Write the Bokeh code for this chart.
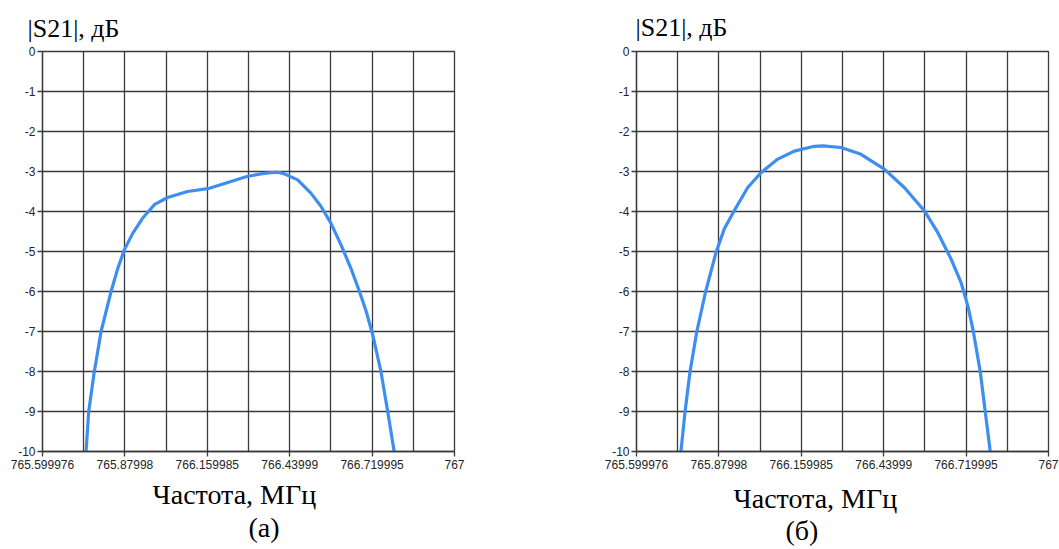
from bokeh.plotting import figure
from bokeh.layouts import row
from bokeh.models import FixedTicker, Title
from bokeh.embed import file_html
from bokeh.resources import INLINE

# ---- data ----
freq_a = [765.748, 765.757, 765.776, 765.782, 765.799, 765.816, 765.833, 765.856,
          765.878, 765.907, 765.940, 765.980, 766.025, 766.093, 766.167, 766.227,
          766.297, 766.342, 766.376, 766.400, 766.422, 766.467, 766.512, 766.546,
          766.580, 766.614, 766.648, 766.677, 766.700, 766.722, 766.750, 766.773, 766.795]
s21_a = [-10.0, -9.0, -8.0, -7.75, -7.0, -6.5, -6.0, -5.42,
         -4.96, -4.54, -4.17, -3.83, -3.65, -3.50, -3.42, -3.28,
         -3.12, -3.06, -3.03, -3.02, -3.06, -3.21, -3.54, -3.87,
         -4.29, -4.83, -5.42, -6.0, -6.5, -7.08, -8.0, -9.0, -10.0]

freq_b = [765.751, 765.765, 765.782, 765.805, 765.835, 765.870, 765.898, 765.932,
          765.978, 766.023, 766.080, 766.136, 766.204, 766.234, 766.295, 766.363,
          766.442, 766.510, 766.578, 766.624, 766.669, 766.703, 766.726, 766.743,
          766.768, 766.785, 766.802]
s21_b = [-10.0, -9.0, -8.0, -7.0, -6.0, -5.03, -4.44, -3.98,
         -3.40, -3.03, -2.69, -2.49, -2.37, -2.36, -2.40, -2.57,
         -2.94, -3.40, -3.98, -4.53, -5.19, -5.78, -6.36, -6.94,
         -8.0, -9.0, -10.0]

x_major = [765.6, 765.88, 766.16, 766.44, 766.72, 767.0]
x_major_labels = ["765.599976", "765.87998", "766.159985", "766.43999", "766.719995", "767"]
x_minor = [765.74, 766.02, 766.30, 766.58, 766.86]
y_ticks = [0, -1, -2, -3, -4, -5, -6, -7, -8, -9, -10]
y_tick_labels = ["0", "-1", "-2", "-3", "-4", "-5", "-6", "-7", "-8", "-9", "-10"]

y_title = "|S21|, дБ"
x_title = "Частота, МГц"
captions = ["(а)", "(б)"]

GRID = "#3a3a3a"
BLUE = "#3d8ef0"


def make_panel(freq, s21, width, bl, br, cap, t_off, t_stand, xl_off, xl_stand, cap_off, cap_stand):
    p = figure(width=width, height=549, x_range=(765.6, 767.0), y_range=(-10, 0),
               output_backend="svg", toolbar_location=None, title=None,
               min_border_left=bl, min_border_right=br, min_border_top=51, min_border_bottom=98)
    p.background_fill_color = "white"
    p.border_fill_color = "white"
    p.outline_line_color = GRID
    p.outline_line_width = 1.3

    p.xaxis.ticker = FixedTicker(ticks=x_major, minor_ticks=x_minor)
    p.xaxis.major_label_overrides = {t: l for t, l in zip(x_major, x_major_labels)}
    p.yaxis.ticker = FixedTicker(ticks=y_ticks)
    p.yaxis.major_label_overrides = {t: l for t, l in zip(y_ticks, y_tick_labels)}
    for ax in (p.xaxis, p.yaxis):
        ax.axis_line_color = GRID
        ax.axis_line_width = 1.3
        ax.major_tick_line_color = GRID
        ax.major_tick_line_width = 1.3
        ax.major_tick_out = 5
        ax.major_tick_in = 0
        ax.minor_tick_out = 0
        ax.minor_tick_in = 0
        ax.major_label_text_font = "Liberation Sans"
        ax.major_label_text_font_size = "12px"
        ax.major_label_text_color = "#252525"
    p.xaxis.major_label_standoff = 3
    p.yaxis.major_label_standoff = 2

    p.xgrid.grid_line_color = GRID
    p.xgrid.grid_line_width = 1.3
    p.xgrid.minor_grid_line_color = GRID
    p.xgrid.minor_grid_line_width = 1.3
    p.ygrid.grid_line_color = GRID
    p.ygrid.grid_line_width = 1.3

    p.line(freq, s21, line_color=BLUE, line_width=3.2)

    t = Title(text=y_title, align="left", offset=t_off, standoff=t_stand,
              text_font="Liberation Serif", text_font_size="26px",
              text_font_style="normal", text_color="black")
    p.add_layout(t, "above")
    xl = Title(text=x_title, align="left", offset=xl_off, standoff=xl_stand,
               text_font="Liberation Serif", text_font_size="28px",
               text_font_style="normal", text_color="black")
    p.add_layout(xl, "below")
    c = Title(text=cap, align="left", offset=cap_off, standoff=cap_stand,
              text_font="Liberation Serif", text_font_size="28px",
              text_font_style="normal", text_color="black")
    p.add_layout(c, "below")
    return p


p1 = make_panel(freq_a, s21_a, 580, 42, 126, captions[0], -15, 18, 110, 10, 206, -10)
p2 = make_panel(freq_b, s21_b, 479, 56, 11, captions[1], -1, 20, 97, 18, 149, -20)

layout = row(p1, p2)
open("out.html", "w").write(file_html(layout, INLINE))
